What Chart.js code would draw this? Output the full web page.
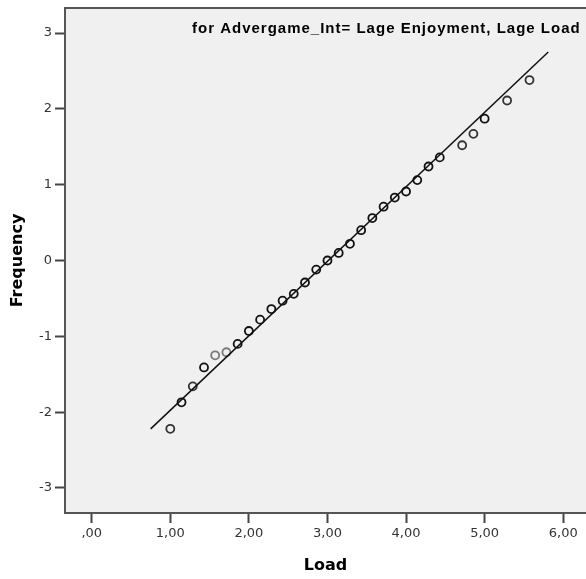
<!DOCTYPE html>
<html>
<head>
<meta charset="utf-8">
<script src="https://cdn.jsdelivr.net/npm/chart.js@4.4.1/dist/chart.umd.min.js"></script>
<style>
  html, body { margin: 0; padding: 0; background: #fff; overflow: hidden; }
  #qq { display: block; }
</style>
</head>
<body>
<canvas id="qq" width="586" height="579"></canvas>
<script>
// observed Load scores and their expected normal values
const loadValues = [1.000, 1.143, 1.286, 1.429, 1.571, 1.714, 1.857, 2.000, 2.143, 2.286,
                    2.429, 2.571, 2.714, 2.857, 3.000, 3.143, 3.286, 3.429, 3.571, 3.714,
                    3.857, 4.000, 4.143, 4.286, 4.429, 4.714, 4.857, 5.000, 5.286, 5.571];
const expectedNormal = [-2.22, -1.87, -1.66, -1.41, -1.25, -1.21, -1.10, -0.93, -0.78, -0.64,
                        -0.53, -0.44, -0.29, -0.12, 0.00, 0.10, 0.22, 0.40, 0.56, 0.71,
                        0.83, 0.91, 1.06, 1.24, 1.36, 1.52, 1.67, 1.87, 2.11, 2.38];

// reference line end points
const refLineX = [0.75, 5.81];
const refLineY = [-2.22, 2.75];

const xTicks = [0, 1, 2, 3, 4, 5, 6];
const yTicks = [-3, -2, -1, 0, 1, 2, 3];

const panelTitle = 'for Advergame_Int= Lage Enjoyment, Lage Load';

const lightIdx = [4, 5];
const midIdx = [0, 2, 25, 26, 28, 29];
const pointColors = loadValues.map((v, i) =>
  lightIdx.includes(i) ? '#7a7a7a' : midIdx.includes(i) ? '#333' : '#111');

// grey panel plus frame (the panel runs off the right edge, so no right side)
const panel = {
  id: 'panel',
  beforeDraw(chart) {
    const { ctx, chartArea: a } = chart;
    ctx.save();
    ctx.fillStyle = '#f0f0f0';
    ctx.fillRect(a.left, a.top, chart.width - a.left, a.bottom - a.top);
    ctx.restore();
  },
  afterDraw(chart) {
    const { ctx, chartArea: a } = chart;
    ctx.save();
    ctx.strokeStyle = '#555';
    ctx.lineWidth = 2;
    ctx.beginPath();
    ctx.moveTo(chart.width, a.top);
    ctx.lineTo(a.left, a.top);
    ctx.lineTo(a.left, a.bottom);
    ctx.lineTo(chart.width, a.bottom);
    ctx.stroke();
    ctx.fillStyle = '#000';
    ctx.font = 'bold 15px "Liberation Sans", Arial, sans-serif';
    ctx.letterSpacing = '1px';
    ctx.textAlign = 'left';
    ctx.textBaseline = 'alphabetic';
    ctx.fillText(panelTitle, 192, 33);
    ctx.restore();
  }
};

const fmt = v => (v === 0 ? ',00' : v.toFixed(2).replace('.', ','));

new Chart(document.getElementById('qq'), {
  type: 'scatter',
  data: {
    datasets: [{
      type: 'line',
      data: refLineX.map((x, i) => ({ x, y: refLineY[i] })),
      borderColor: '#111',
      borderWidth: 1.5,
      pointRadius: 0,
      fill: false
    }, {
      data: loadValues.map((x, i) => ({ x, y: expectedNormal[i] })),
      pointRadius: 4,
      pointBorderWidth: 1.8,
      pointBackgroundColor: 'rgba(0,0,0,0)',
      pointBorderColor: pointColors
    }]
  },
  options: {
    responsive: false,
    animation: false,
    layout: { autoPadding: false, padding: { top: 8, left: 0, right: 0, bottom: 0 } },
    plugins: { legend: { display: false }, tooltip: { enabled: false } },
    scales: {
      x: {
        type: 'linear',
        min: -0.34,
        max: 6.29,
        afterBuildTicks: s => { s.ticks = xTicks.map(v => ({ value: v })); },
        afterFit: s => { s.height = 66; s.paddingLeft = 0; s.paddingRight = 0; },
        border: { display: false },
        grid: { drawOnChartArea: false, tickLength: 10, tickColor: '#444', tickWidth: 2 },
        ticks: {
          padding: 3,
          color: '#333',
          font: { family: '"DejaVu Sans", sans-serif', size: 13 },
          callback: v => fmt(v),
          maxRotation: 0
        },
        title: {
          display: true,
          text: 'Load',
          color: '#000',
          font: { family: '"DejaVu Sans", sans-serif', size: 16, weight: 'bold' },
          padding: { top: 0, bottom: 4 }
        }
      },
      y: {
        type: 'linear',
        min: -3.33,
        max: 3.33,
        afterBuildTicks: s => { s.ticks = yTicks.map(v => ({ value: v })); },
        afterFit: s => { s.width = 65; s.paddingTop = 0; s.paddingBottom = 0; },
        border: { display: false },
        grid: { drawOnChartArea: false, tickLength: 10, tickColor: '#444', tickWidth: 2 },
        ticks: {
          padding: 3,
          color: '#333',
          font: { family: '"DejaVu Sans", sans-serif', size: 13 },
          callback: v => String(v)
        },
        title: {
          display: true,
          text: 'Frequency',
          color: '#000',
          font: { family: '"DejaVu Sans", sans-serif', size: 16, weight: 'bold' },
          padding: { top: 8, bottom: 0 }
        }
      }
    }
  },
  plugins: [panel]
});
</script>
</body>
</html>
